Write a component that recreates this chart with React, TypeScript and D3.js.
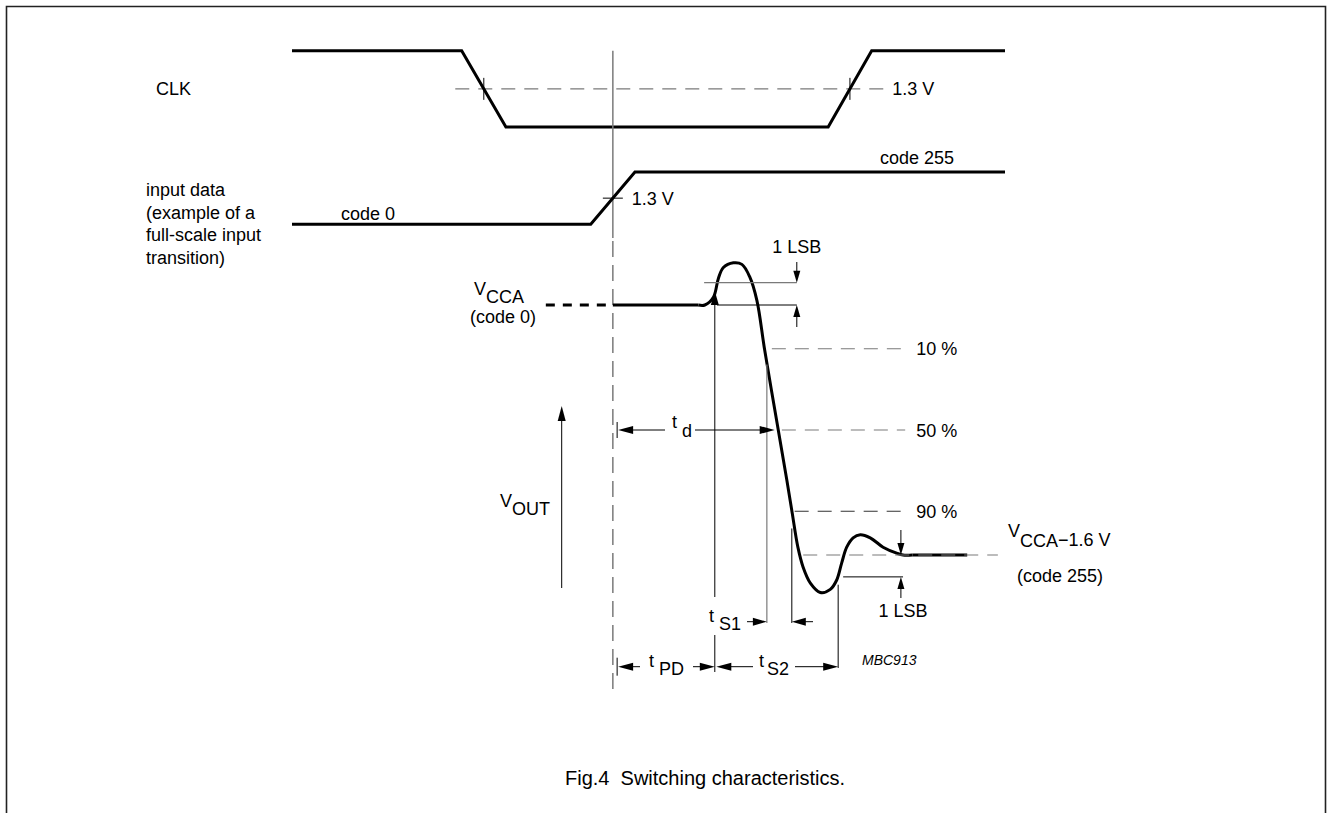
import React from 'react';
import * as d3 from 'd3';

const W = 1327;
const H = 813;

// ---- data (time in arbitrary units 0..100, levels normalised) ----
const clkTimes = [0, 23.8, 30.0, 75.2, 81.3, 100];
const clkLevels = [1, 1, 0, 0, 1, 1];
const dataTimes = [0, 41.9, 48.1, 100];
const dataLevels = [0, 0, 1, 1];
const thresholdLevel = 0.5;

// output voltage relative to VCCA (V)
const voutFlatTimes = [45.0, 57.0];
const voutTimes = [57.0, 57.9, 59.1, 59.8, 60.5, 61.9, 63.1, 64.2, 65.2, 66.3, 68.2, 69.4, 70.15, 70.95, 71.7, 72.7, 74.1, 75.5, 76.4, 77.1, 77.8, 78.7, 79.7, 81.1, 82.9, 84.9, 85.7, 87.0];
const voutValues = [0, 0, 0.05, 0.17, 0.24, 0.27, 0.26, 0.18, 0.03, -0.29, -0.8, -1.12, -1.33, -1.55, -1.68, -1.78, -1.84, -1.82, -1.76, -1.65, -1.55, -1.49, -1.47, -1.49, -1.55, -1.59, -1.6, -1.6];
const voutFinalTimes = [87.0, 94.7];

const pctLabels = ['10 %', '50 %', '90 %'];
const pctValues = [-0.28, -0.8, -1.32];
const pctStarts = [67.3, 68.7, 70.5];
const pctEnd = 86.0;

const tRef = 45.0;
const tVccaDashStart = 35.6;
const tClkThr = [22.9, 83.2];
const tClkCross = [26.9, 78.25];
const tMeasure = 45.6;
const tPD = 59.3;
const tD50 = 67.7;
const tS1a = 66.6;
const tS1b = 70.1;
const tS2 = 76.6;
const tLsbTop = [57.8, 59.6, 70.8];
const tLsbBot = [77.3, 85.7, 85.4];
const tFinalDash = [71.7, 99.0];
const vLsbTop = 0.143;
const vLsbBot = -1.74;
const vFinal = -1.6;

const xS = d3.scaleLinear().domain([0, 100]).range([292, 1005]);
const clkY = d3.scaleLinear().domain([0, 1]).range([127, 50.7]);
const dataY = d3.scaleLinear().domain([0, 1]).range([224.3, 172]);
const vY = d3.scaleLinear().domain([0, -1.6]).range([305, 555]);

const FONT = '"Liberation Sans", Arial, Helvetica, sans-serif';
const GREY = '#7a7a7a';

function arrowHead(x: number, y: number, dir: string, len = 14, hw = 4) {
  let pts: number[][] = [];
  if (dir === 'left') pts = [[x, y], [x + len, y - hw], [x + len, y + hw]];
  if (dir === 'right') pts = [[x, y], [x - len, y - hw], [x - len, y + hw]];
  if (dir === 'up') pts = [[x, y], [x - hw, y + len], [x + hw, y + len]];
  if (dir === 'down') pts = [[x, y], [x - hw, y - len], [x + hw, y - len]];
  return <polygon points={pts.map(p => p.join(',')).join(' ')} fill="#000" />;
}

export default function App() {
  const lineGen = d3.line<[number, number]>().x(d => d[0]).y(d => d[1]);
  const clkPath = lineGen(clkTimes.map((t, i) => [xS(t), clkY(clkLevels[i])]) as [number, number][]);
  const dataPath = lineGen(dataTimes.map((t, i) => [xS(t), dataY(dataLevels[i])]) as [number, number][]);
  const curveGen = d3.line<[number, number]>().x(d => d[0]).y(d => d[1]).curve(d3.curveCatmullRom.alpha(0.5));
  const voutPath = curveGen(voutTimes.map((t, i) => [xS(t), vY(voutValues[i])]) as [number, number][]);
  const flatPath = lineGen(voutFlatTimes.map(t => [xS(t), vY(0)]) as [number, number][]);
  const finalPath = lineGen(voutFinalTimes.map(t => [xS(t), vY(vFinal)]) as [number, number][]);

  const rowTd = vY(-0.8);
  const rowS1 = 621.7;
  const rowPD = 666.7;
  const thin = { stroke: '#000', strokeWidth: 1 };

  return (
    <svg width={W} height={H} style={{ position: 'absolute', left: 0, top: 0, background: '#fff' }} fontFamily={FONT} fontSize={18}>
      <rect x={0} y={0} width={W} height={H} fill="#fff" />
      {/* frame */}
      <path d={`M6.5,${H} V6.5 H1325.5 V${H}`} fill="none" stroke="#222" strokeWidth={1.6} />

      {/* CLK */}
      <text x={156} y={95}>CLK</text>
      <line x1={xS(tClkThr[0])} x2={xS(tClkThr[1])} y1={clkY(thresholdLevel)} y2={clkY(thresholdLevel)} stroke={GREY} strokeWidth={1.3} strokeDasharray="14,9" />
      {tClkCross.map((t, i) => (
        <line key={i} x1={xS(t)} x2={xS(t)} y1={clkY(thresholdLevel) - 11} y2={clkY(thresholdLevel) + 11} {...thin} />
      ))}
      <path d={clkPath!} fill="none" stroke="#000" strokeWidth={3} strokeLinejoin="miter" />
      <text x={xS(tClkThr[1]) + 7} y={clkY(thresholdLevel) + 6.5}>1.3 V</text>

      {/* reference vertical line */}
      <line x1={xS(tRef)} x2={xS(tRef)} y1={clkY(1)} y2={238} stroke={GREY} strokeWidth={1.5} />
      <line x1={xS(tRef)} x2={xS(tRef)} y1={241} y2={692} stroke={GREY} strokeWidth={1.5} strokeDasharray="16,8" />

      {/* input data */}
      {['input data', '(example of a', 'full-scale input', 'transition)'].map((s, i) => (
        <text key={s} x={146} y={196 + 22.5 * i}>{s}</text>
      ))}
      <text x={341} y={220}>code 0</text>
      <text x={880} y={164}>code 255</text>
      <path d={dataPath!} fill="none" stroke="#000" strokeWidth={3} />
      <line x1={xS(tRef) - 10} x2={xS(tRef) + 10} y1={dataY(thresholdLevel)} y2={dataY(thresholdLevel)} {...thin} />
      <text x={xS(tRef) + 19} y={dataY(thresholdLevel) + 7}>1.3 V</text>

      {/* VOUT */}
      <text x={474} y={295}>V<tspan dy={8}>CCA</tspan></text>
      <text x={470} y={323}>(code 0)</text>
      <line x1={xS(tVccaDashStart)} x2={xS(tRef)} y1={vY(0)} y2={vY(0)} stroke="#000" strokeWidth={3} strokeDasharray="9,8" />
      <path d={flatPath!} fill="none" stroke="#000" strokeWidth={3} />
      <path d={voutPath!} fill="none" stroke="#000" strokeWidth={3} />
      <path d={finalPath!} fill="none" stroke="#000" strokeWidth={3} />

      {/* 1 LSB top */}
      <line x1={xS(tLsbTop[0])} x2={xS(tLsbTop[2])} y1={vY(vLsbTop)} y2={vY(vLsbTop)} stroke={GREY} strokeWidth={1.2} />
      <line x1={xS(tLsbTop[1])} x2={xS(tLsbTop[2])} y1={vY(0)} y2={vY(0)} {...thin} />
      <line x1={xS(tLsbTop[2])} x2={xS(tLsbTop[2])} y1={262} y2={vY(vLsbTop) - 10} {...thin} />
      {arrowHead(xS(tLsbTop[2]), vY(vLsbTop), 'down', 12, 3.5)}
      <line x1={xS(tLsbTop[2])} x2={xS(tLsbTop[2])} y1={vY(0) + 10} y2={327} {...thin} />
      {arrowHead(xS(tLsbTop[2]), vY(0), 'up', 12, 3.5)}
      <text x={xS(tLsbTop[2])} y={253} textAnchor="middle">1 LSB</text>

      {/* percentage levels */}
      {pctValues.map((v, i) => (
        <g key={i}>
          <line x1={xS(pctStarts[i])} x2={xS(pctEnd)} y1={vY(v)} y2={vY(v)} stroke={i === 2 ? '#333' : GREY} strokeWidth={1.2} strokeDasharray="14,9" />
          <text x={xS(pctEnd) + 11} y={vY(v) + 6.5}>{pctLabels[i]}</text>
        </g>
      ))}

      {/* final level */}
      <line x1={xS(tFinalDash[0])} x2={xS(tFinalDash[1])} y1={vY(vFinal)} y2={vY(vFinal)} stroke={GREY} strokeWidth={1.2} strokeDasharray="14,9" />
      <text x={1008} y={537}>V<tspan dy={10}>CCA</tspan><tspan dy={-1}>−1.6 V</tspan></text>
      <text x={1017} y={582}>(code 255)</text>

      {/* 1 LSB bottom */}
      <line x1={xS(tLsbBot[0])} x2={xS(tLsbBot[1])} y1={vY(vLsbBot)} y2={vY(vLsbBot)} {...thin} />
      <line x1={xS(tLsbBot[2])} x2={xS(tLsbBot[2])} y1={530} y2={vY(vFinal) - 10} {...thin} />
      {arrowHead(xS(tLsbBot[2]), vY(vFinal), 'down', 12, 3.5)}
      <line x1={xS(tLsbBot[2])} x2={xS(tLsbBot[2])} y1={vY(vLsbBot) + 10} y2={598} {...thin} />
      {arrowHead(xS(tLsbBot[2]), vY(vLsbBot), 'up', 12, 3.5)}
      <text x={xS(tLsbBot[2]) + 2} y={617} textAnchor="middle">1 LSB</text>

      {/* V_OUT arrow */}
      <line x1={561.7} x2={561.7} y1={418} y2={588} {...thin} />
      {arrowHead(561.7, 406, 'up', 15, 4)}
      <text x={500} y={507}>V<tspan dy={8}>OUT</tspan></text>

      {/* vertical timing lines */}
      <line x1={xS(tPD)} x2={xS(tPD)} y1={vY(0.09) + 12} y2={597} {...thin} />
      {arrowHead(xS(tPD), vY(0.09), 'up', 14, 4)}
      <line x1={xS(tPD)} x2={xS(tPD)} y1={635} y2={672} {...thin} />
      <line x1={xS(tS1a)} x2={xS(tS1a)} y1={vY(-0.38)} y2={623} stroke={GREY} strokeWidth={1.2} />
      <line x1={xS(tS1b)} x2={xS(tS1b)} y1={vY(-1.43)} y2={623} {...thin} />
      <line x1={xS(tS2)} x2={xS(tS2)} y1={vY(-1.79)} y2={668} {...thin} />

      {/* t_d */}
      <line x1={xS(tMeasure)} x2={xS(tMeasure)} y1={rowTd - 8} y2={rowTd + 8} {...thin} />
      {arrowHead(xS(tMeasure) + 1, rowTd, 'left', 15, 4)}
      <line x1={xS(tMeasure) + 10} x2={665} y1={rowTd} y2={rowTd} {...thin} />
      <text x={672} y={rowTd - 2}>t<tspan x={682} dy={9}>d</tspan></text>
      <line x1={695} x2={xS(tD50) - 10} y1={rowTd} y2={rowTd} {...thin} />
      {arrowHead(xS(tD50), rowTd, 'right', 15, 4)}

      {/* t_S1 */}
      <text x={709} y={rowS1}>t<tspan x={719} dy={8}>S1</tspan></text>
      <line x1={747} x2={xS(tS1a) - 8} y1={rowS1} y2={rowS1} {...thin} />
      {arrowHead(xS(tS1a), rowS1, 'right', 14, 4)}
      <line x1={xS(tS1b) + 8} x2={813} y1={rowS1} y2={rowS1} {...thin} />
      {arrowHead(xS(tS1b), rowS1, 'left', 14, 4)}

      {/* t_PD & t_S2 */}
      <line x1={xS(tMeasure)} x2={xS(tMeasure)} y1={rowPD - 9} y2={rowPD + 9} {...thin} />
      {arrowHead(xS(tMeasure) + 1, rowPD, 'left', 15, 4)}
      <line x1={xS(tMeasure) + 10} x2={640} y1={rowPD} y2={rowPD} {...thin} />
      <text x={649} y={rowPD}>t<tspan x={659} dy={8}>PD</tspan></text>
      <line x1={693} x2={xS(tPD) - 10} y1={rowPD} y2={rowPD} {...thin} />
      {arrowHead(xS(tPD), rowPD, 'right', 15, 4)}
      {arrowHead(xS(tPD) + 1.5, rowPD, 'left', 15, 4)}
      <line x1={xS(tPD) + 10} x2={753} y1={rowPD} y2={rowPD} {...thin} />
      <text x={759} y={rowPD}>t<tspan x={767} dy={8}>S2</tspan></text>
      <line x1={795} x2={xS(tS2) - 10} y1={rowPD} y2={rowPD} {...thin} />
      {arrowHead(xS(tS2), rowPD, 'right', 15, 4)}

      <text x={862} y={665} fontSize={14} fontStyle="italic">MBC913</text>

      <text x={565} y={785} fontSize={20} style={{ whiteSpace: 'pre' }}>Fig.4  Switching characteristics.</text>
    </svg>
  );
}
